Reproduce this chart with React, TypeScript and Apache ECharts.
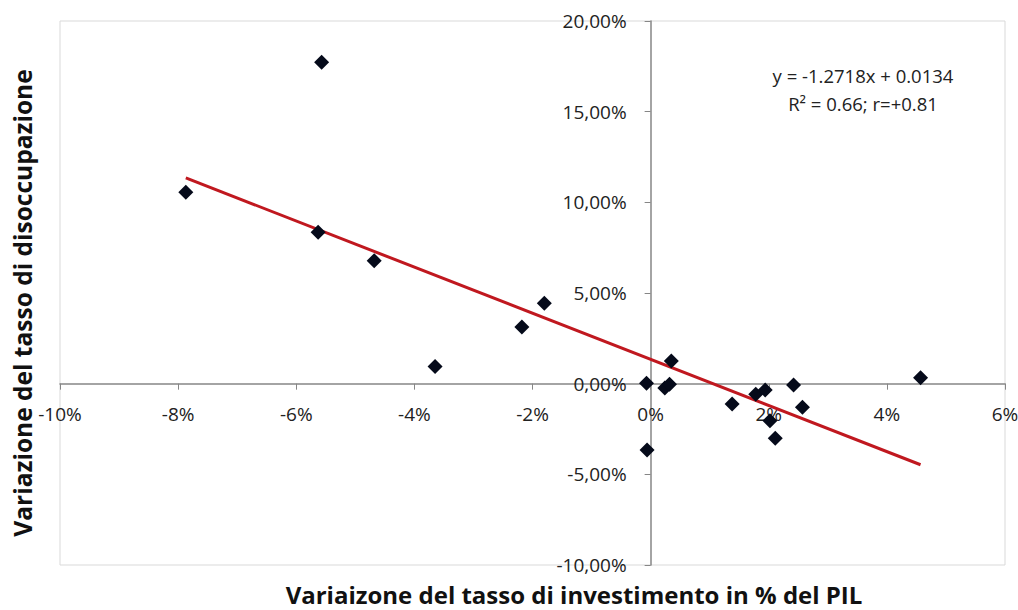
import React, { useEffect, useRef } from "react";
import * as echarts from "echarts";

// Investment-rate change (% of GDP) vs unemployment-rate change
const investmentChange = [
  -0.0787, -0.0557, -0.0563, -0.0468, -0.0365, -0.0218, -0.018, -0.0007, -0.0006,
  0.0024, 0.0032, 0.0035, 0.0138, 0.0178, 0.0194, 0.0202, 0.0211, 0.0242, 0.0257, 0.0457,
];
const unemploymentChange = [
  0.1056, 0.1773, 0.0835, 0.0678, 0.0094, 0.0313, 0.0443, 0.0002, -0.0366,
  -0.0024, -0.0003, 0.0125, -0.0112, -0.0058, -0.0035, -0.0204, -0.0301, -0.0007, -0.013, 0.0033,
];

// Linear trend (as shown in the equation box)
const trendSlope = -1.2718;
const trendIntercept = 0.0134;
const equationLines = ["y = -1.2718x + 0.0134", "R² = 0.66; r=+0.81"];

const xTitle = "Variaizone del tasso di investimento in % del PIL";
const yTitle = "Variazione del tasso di disoccupazione";

const X_MIN = -0.1;
const X_MAX = 0.06;
const Y_MIN = -0.1;
const Y_MAX = 0.2;

const FONT = "'Open Sans', Lato, sans-serif";

const W = 1018;
const H = 610;
const G_LEFT = 60;
const G_RIGHT = 13;
const G_TOP = 21;
const G_BOTTOM = 45;

export default function App() {
  const ref = useRef<HTMLDivElement>(null);
  useEffect(() => {
    document.body.style.margin = "0";
    if (!ref.current) return;
    const chart = echarts.init(ref.current, null, { renderer: "svg" });
    const points = investmentChange.map((x, i) => [x, unemploymentChange[i]]);
    const xMin = Math.min(...investmentChange);
    const xMax = Math.max(...investmentChange);
    const trend = [
      [xMin, trendSlope * xMin + trendIntercept],
      [xMax, trendSlope * xMax + trendIntercept],
    ];
    // Axes cross at zero: shift the axes inward by offset (line, ticks, labels together)
    const gw = W - G_LEFT - G_RIGHT;
    const gh = H - G_TOP - G_BOTTOM;
    const yAxisOffset = -(gw * (0 - X_MIN)) / (X_MAX - X_MIN);
    const xAxisOffset = -(gh * (0 - Y_MIN)) / (Y_MAX - Y_MIN);
    chart.setOption({
      animation: false,
      backgroundColor: "#ffffff",
      textStyle: { fontFamily: FONT },
      grid: {
        left: G_LEFT,
        right: G_RIGHT,
        top: G_TOP,
        bottom: G_BOTTOM,
        containLabel: false,
        outerBoundsMode: "none",
        show: true,
        borderColor: "#d9d9d9",
        borderWidth: 1,
        backgroundColor: "#ffffff",
      },
      xAxis: {
        type: "value",
        position: "bottom",
        offset: xAxisOffset,
        min: X_MIN,
        max: X_MAX,
        interval: 0.02,
        axisLine: { show: true, onZero: false, lineStyle: { color: "#868686", width: 1.5 } },
        axisTick: { show: true, length: 6, lineStyle: { color: "#868686" } },
        splitLine: { show: false },
        axisLabel: {
          margin: 21,
          color: "#222",
          fontSize: 19,
          fontFamily: FONT,
          formatter: (v: number) => Math.round(v * 100) + "%",
        },
      },
      yAxis: {
        type: "value",
        position: "left",
        offset: yAxisOffset,
        min: Y_MIN,
        max: Y_MAX,
        interval: 0.05,
        axisLine: { show: true, onZero: false, lineStyle: { color: "#868686", width: 1.5 } },
        axisTick: { show: true, length: 6, lineStyle: { color: "#868686" } },
        splitLine: { show: false },
        axisLabel: {
          margin: 24,
          color: "#222",
          fontSize: 19,
          fontFamily: FONT,
          formatter: (v: number) => (v * 100).toFixed(2).replace(".", ",") + "%",
        },
      },
      graphic: [
        {
          type: "text",
          x: 574,
          y: 594,
          style: {
            text: xTitle,
            fontSize: 24,
            fontWeight: "bold",
            fontFamily: FONT,
            fill: "#111",
            align: "center",
            verticalAlign: "middle",
          },
        },
        {
          type: "text",
          x: 22,
          y: 303,
          rotation: Math.PI / 2,
          style: {
            text: yTitle,
            fontSize: 24.5,
            fontWeight: "bold",
            fontFamily: FONT,
            fill: "#111",
            align: "center",
            verticalAlign: "middle",
          },
        },
        {
          type: "text",
          x: 863,
          y: 75,
          style: {
            text: equationLines[0],
            fontSize: 18.5,
            fontFamily: FONT,
            fill: "#222",
            align: "center",
            verticalAlign: "middle",
          },
        },
        {
          type: "text",
          x: 863,
          y: 103,
          style: {
            text: equationLines[1],
            fontSize: 18.5,
            fontFamily: FONT,
            fill: "#222",
            align: "center",
            verticalAlign: "middle",
          },
        },
      ],
      series: [
        {
          type: "line",
          data: trend,
          showSymbol: false,
          symbol: "none",
          lineStyle: { color: "#c0181f", width: 3 },
          z: 2,
        },
        {
          type: "scatter",
          data: points,
          symbol: "diamond",
          symbolSize: 15,
          itemStyle: { color: "#050a1a", opacity: 1 },
          z: 3,
        },
      ],
    });
    return () => chart.dispose();
  }, []);
  return <div ref={ref} style={{ width: W, height: H }} />;
}
